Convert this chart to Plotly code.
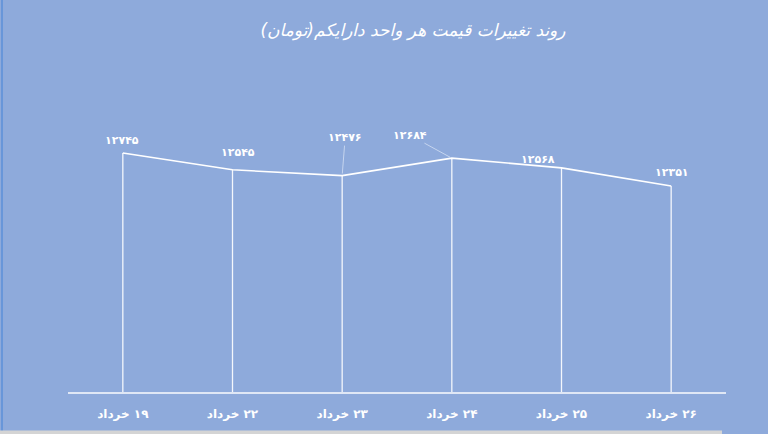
import plotly.graph_objects as go

RLM = "\u200F"

categories = ["۱۹ خرداد", "۲۲ خرداد", "۲۳ خرداد", "۲۴ خرداد", "۲۵ خرداد", "۲۶ خرداد"]
values = [12745, 12545, 12476, 12684, 12568, 12351]
value_labels = ["۱۲۷۴۵", "۱۲۵۴۵", "۱۲۴۷۶", "۱۲۶۸۴", "۱۲۵۶۸", "۱۲۳۵۱"]
title_text = "روند تغییرات قیمت هر واحد دارایکم(تومان)"

Y_MIN, Y_MAX = 9892, 13856
BG = "#8eaadb"
FONT = "DejaVu Sans"

x_idx = list(range(len(categories)))

# label offsets (pixels) and whether a leader line is drawn
label_dx = [-1, 5, 3, -42, -24, 1]
label_dy = [-13, -17, -38, -23, -8, -14]
leader = [False, False, True, True, False, False]

fig = go.Figure()
fig.add_trace(go.Scatter(
    x=x_idx, y=values, mode="lines",
    line=dict(color="white", width=1.6),
    error_y=dict(type="data", symmetric=False,
                 array=[0] * len(values),
                 arrayminus=[v - Y_MIN for v in values],
                 color="rgba(255,255,255,0.9)", thickness=1.3, width=0),
    hoverinfo="skip", showlegend=False,
))

for i, (v, lab) in enumerate(zip(values, value_labels)):
    if leader[i]:
        fig.add_annotation(x=i, y=v, xref="x", yref="y", text="<b>" + lab + "</b>",
                           showarrow=True, arrowhead=0, arrowwidth=0.8,
                           arrowcolor="rgba(230,238,250,0.8)",
                           ax=label_dx[i], ay=label_dy[i], standoff=2,
                           font=dict(family=FONT, size=11, color="white"))
    else:
        fig.add_annotation(x=i, y=v, xref="x", yref="y", text="<b>" + lab + "</b>",
                           showarrow=False, xshift=label_dx[i], yshift=-label_dy[i],
                           font=dict(family=FONT, size=11, color="white"))

# spreadsheet frame edges (left border line, bottom grey strip)
fig.add_shape(type="line", xref="paper", yref="paper", x0=-66 / 658, x1=-66 / 658,
              y0=-42 / 332, y1=1 + 60 / 332, line=dict(color="#5b8fd8", width=1.5))
fig.add_shape(type="rect", xref="paper", yref="paper", x0=-68 / 658, x1=(722 - 68) / 658,
              y0=-42 / 332, y1=-38.5 / 332, line=dict(width=0), fillcolor="#d4d4d4")

fig.update_layout(
    width=768, height=434,
    margin=dict(l=68, r=42, t=60, b=42),
    paper_bgcolor=BG, plot_bgcolor=BG,
    title=dict(text=RLM + title_text + RLM, x=413 / 768, y=1 - 30 / 434,
               xref="container", yref="container", xanchor="center", yanchor="middle",
               font=dict(family=FONT, size=17, color="white", style="italic")),
    xaxis=dict(range=[-0.5, len(categories) - 0.5], tickvals=x_idx,
               ticktext=[RLM + c for c in categories],
               showgrid=False, zeroline=False, showline=True,
               linecolor="#dfe7f5", linewidth=1.6,
               ticks="outside", ticklen=0, ticklabelstandoff=10,
               tickfont=dict(family=FONT, size=12, color="white", weight="bold")),
    yaxis=dict(range=[Y_MIN, Y_MAX], visible=False),
)

fig.write_html("out.html", config={"displayModeBar": False},
               post_script="document.body.style.margin='0';document.body.style.overflow='hidden';")
